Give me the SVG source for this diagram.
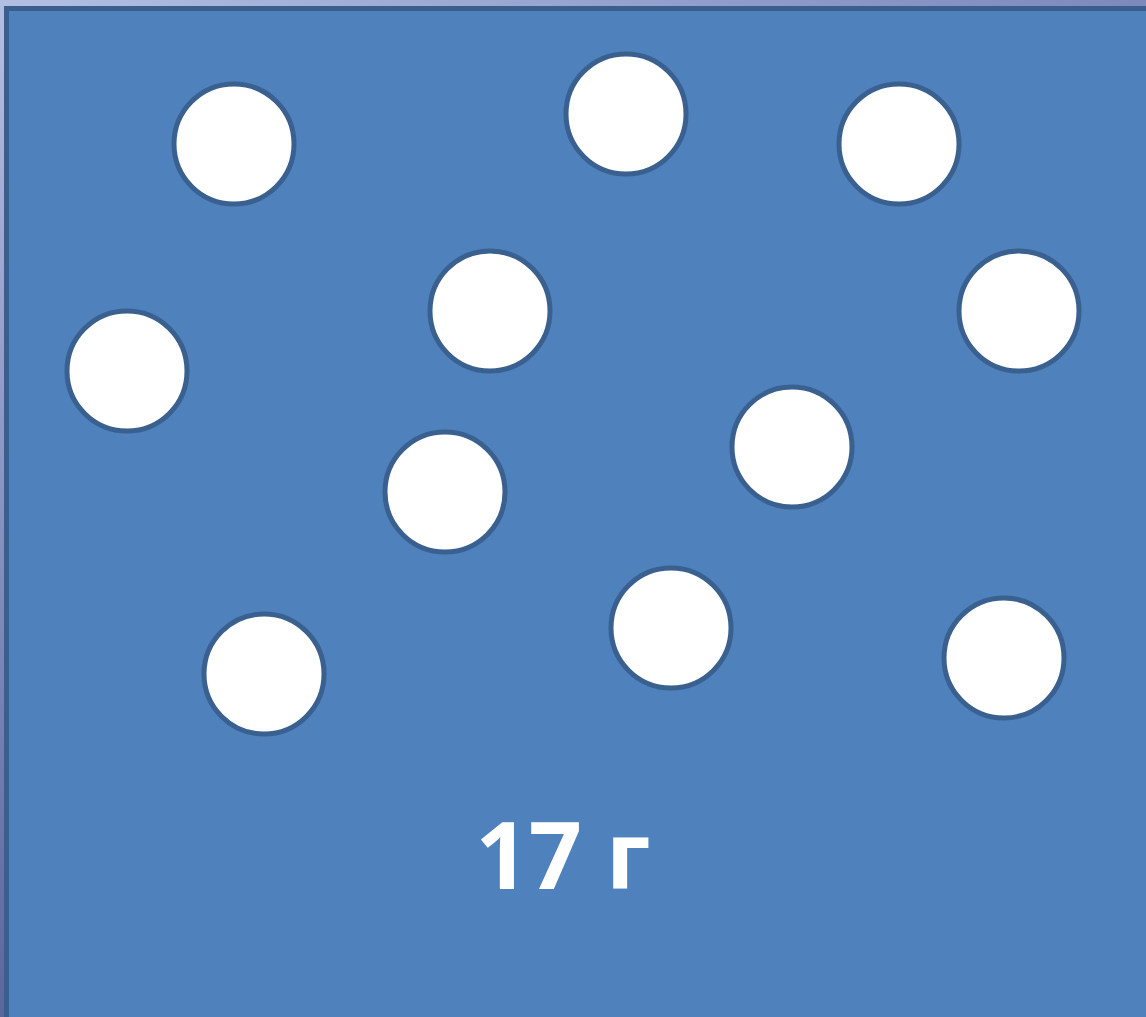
<svg xmlns="http://www.w3.org/2000/svg" width="1146" height="1017" viewBox="0 0 1146 1017">
<defs>
<linearGradient id="bg" x1="0" y1="0" x2="1" y2="1">
<stop offset="0" stop-color="#b3bfe2"/>
<stop offset="1" stop-color="#5a66a0"/>
</linearGradient>
<linearGradient id="bgTop" x1="0" y1="0" x2="1" y2="0">
<stop offset="0" stop-color="#b3bfe2"/>
<stop offset="1" stop-color="#7d88bd"/>
</linearGradient>
<linearGradient id="bgLeft" x1="0" y1="0" x2="0" y2="1">
<stop offset="0" stop-color="#b3bfe2"/>
<stop offset="1" stop-color="#5a669e"/>
</linearGradient>
</defs>
<style>
.ball{fill:#ffffff;stroke:#3a6090;stroke-width:5}
</style>
<rect x="0" y="0" width="1146" height="1017" fill="url(#bg)"/>
<rect x="0" y="0" width="1146" height="8" fill="url(#bgTop)"/>
<rect x="0" y="0" width="6" height="1017" fill="url(#bgLeft)"/>
<g id="box">
<rect x="6.5" y="8.5" width="1145" height="1015" fill="#4f81bd" stroke="#3a5f8d" stroke-width="5"/>
</g>
<g id="balls">
<g id="ball1"><circle class="ball" cx="234" cy="144" r="60"/></g>
<g id="ball2"><circle class="ball" cx="626" cy="114" r="60"/></g>
<g id="ball3"><circle class="ball" cx="899" cy="144" r="60"/></g>
<g id="ball4"><circle class="ball" cx="490" cy="311" r="60"/></g>
<g id="ball5"><circle class="ball" cx="1019" cy="311" r="60"/></g>
<g id="ball6"><circle class="ball" cx="127" cy="371" r="60"/></g>
<g id="ball7"><circle class="ball" cx="792" cy="447" r="60"/></g>
<g id="ball8"><circle class="ball" cx="445" cy="492" r="60"/></g>
<g id="ball9"><circle class="ball" cx="264" cy="674" r="60"/></g>
<g id="ball10"><circle class="ball" cx="671" cy="628" r="60"/></g>
<g id="ball11"><circle class="ball" cx="1004" cy="658" r="60"/></g>
</g>
<g id="label">
<text x="563" y="889" text-anchor="middle" font-family="'Open Sans', 'Liberation Sans', sans-serif" font-weight="700" font-size="93" fill="#ffffff">17 г</text>
</g>
</svg>
